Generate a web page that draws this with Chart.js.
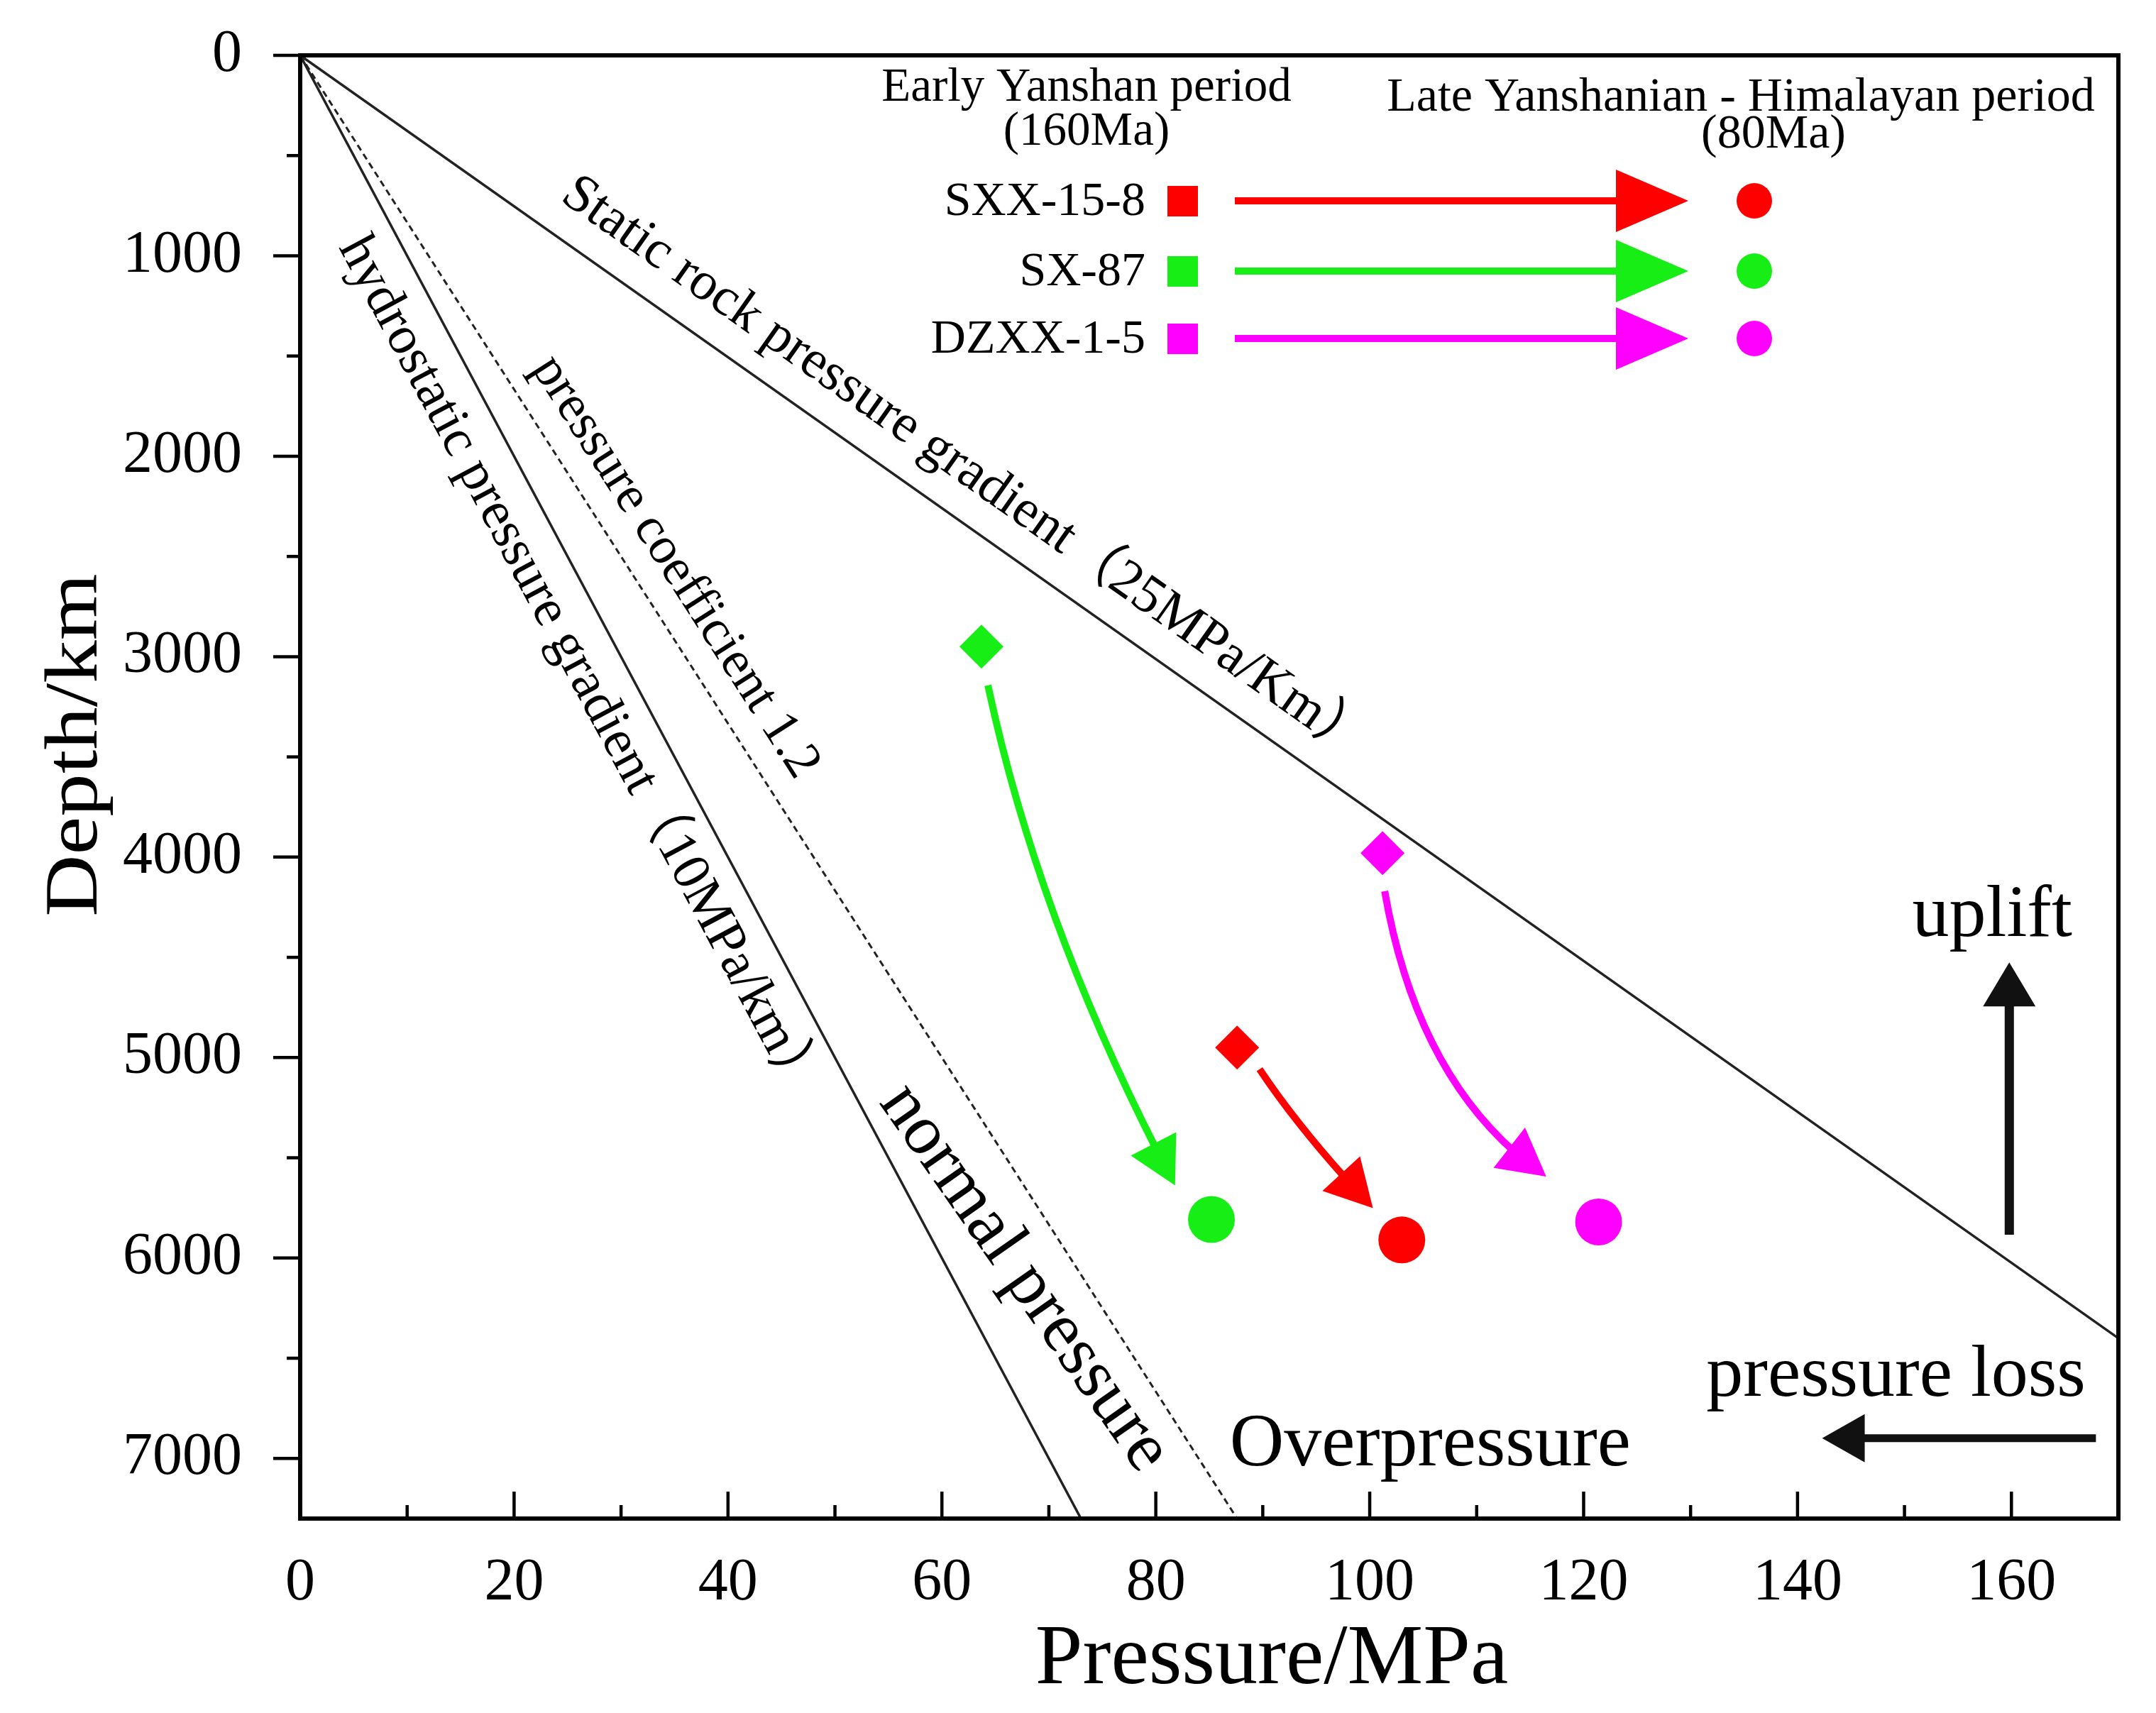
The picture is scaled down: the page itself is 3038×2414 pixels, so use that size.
<!DOCTYPE html>
<html>
<head>
<meta charset="utf-8">
<script src="https://cdn.jsdelivr.net/npm/chart.js@4.4.1/dist/chart.umd.min.js"></script>
<style>
  html, body { margin: 0; padding: 0; background: #ffffff; }
  #wrap { width: 3038px; height: 2414px; }
</style>
</head>
<body>
<div id="wrap"><canvas id="c" width="3038" height="2414"></canvas></div>
<script>
// ---------------- DATA ----------------
const samples = ['SXX-15-8', 'SX-87', 'DZXX-1-5'];
const sampleColors = ['#ff0000', '#16ee16', '#ff00ff'];
// Early Yanshan period (160Ma): pressure (MPa) and depth
const earlyPressure = [87.6, 63.7, 101.2];
const earlyDepth = [4950, 2950, 3980];
// Late Yanshanian - Himalayan period (80Ma)
const latePressure = [103.0, 85.2, 121.4];
const lateDepth = [5910, 5808, 5820];
// evolution arrows: start, bend (control), tip
const arrowStartP = [89.7, 64.3, 101.4];
const arrowStartD = [5058, 3143, 4170];
const arrowBendP = [93.7, 69.2, 104.6];
const arrowBendD = [5378, 4368, 5157];
const arrowTipP = [100.3, 81.8, 116.5];
const arrowTipD = [5751, 5638, 5594];
// reference gradient lines (pressure, depth) end points from origin
const hydroLineP = [0, 73];
const hydroLineD = [0, 7300];
const coefLineP = [0, 87.6];
const coefLineD = [0, 7300];
const staticLineP = [0, 170];
const staticLineD = [0, 6400];
// axis ranges and ticks
const xRange = [0, 170];
const yRange = [0, 7300];
const xTicks = [0, 10, 20, 30, 40, 50, 60, 70, 80, 90, 100, 110, 120, 130, 140, 150, 160];
const xTickLabels = ['0', '', '20', '', '40', '', '60', '', '80', '', '100', '', '120', '', '140', '', '160'];
const yTicks = [0, 500, 1000, 1500, 2000, 2500, 3000, 3500, 4000, 4500, 5000, 5500, 6000, 6500, 7000];
const yTickLabels = ['0', '', '1000', '', '2000', '', '3000', '', '4000', '', '5000', '', '6000', '', '7000'];
// trend arrows (uplift / pressure loss)
const upliftP = [159.8, 159.8];
const upliftD = [5884, 4525];
const lossP = [167.9, 142.3];
const lossD = [6899, 6899];

// ---------------- CHART ----------------
const SERIF = "'Liberation Serif', 'Times New Roman', 'Noto Sans CJK SC', serif";
const toPts = (ps, ds) => ps.map((p, i) => ({ x: p, y: ds[i] }));

const datasets = [
  { label: 'hydrostatic', type: 'line', data: toPts(hydroLineP, hydroLineD), borderColor: '#222', borderWidth: 3.5, pointRadius: 0, fill: false },
  { label: 'coefficient', type: 'line', data: toPts(coefLineP, coefLineD), borderColor: '#222', borderWidth: 3, borderDash: [9, 6], pointRadius: 0, fill: false },
  { label: 'static', type: 'line', data: toPts(staticLineP, staticLineD), borderColor: '#222', borderWidth: 3.5, pointRadius: 0, fill: false }
];
samples.forEach((s, i) => {
  datasets.push({
    label: s, type: 'scatter',
    data: [{ x: earlyPressure[i], y: earlyDepth[i] }, { x: latePressure[i], y: lateDepth[i] }],
    pointStyle: ['rectRot', 'circle'], pointRadius: [31, 33],
    backgroundColor: sampleColors[i], borderColor: sampleColors[i], borderWidth: 0, showLine: false
  });
});

function textAt(ctx, txt, x, y, ang, size, align, sx) {
  ctx.save();
  ctx.translate(x, y);
  ctx.rotate(ang);
  if (sx) ctx.scale(sx, 1);
  ctx.font = size + 'px ' + SERIF;
  ctx.fillStyle = '#000';
  ctx.textAlign = align || 'center';
  ctx.textBaseline = 'middle';
  ctx.fillText(txt, 0, 0);
  ctx.restore();
}
function head(ctx, tx, ty, ang, len, w, color) {
  ctx.save();
  ctx.translate(tx, ty);
  ctx.rotate(ang);
  ctx.beginPath();
  ctx.moveTo(0, 0);
  ctx.lineTo(-len, -w / 2);
  ctx.lineTo(-len, w / 2);
  ctx.closePath();
  ctx.fillStyle = color;
  ctx.fill();
  ctx.restore();
}

const annot = {
  id: 'annot',
  afterDatasetsDraw(chart) {
    const ctx = chart.ctx, a = chart.chartArea;
    const X = chart.scales.x, Y = chart.scales.y;
    const px = v => X.getPixelForValue(v), py = v => Y.getPixelForValue(v);
    ctx.save();
    // curved evolution arrows
    samples.forEach((s, i) => {
      const p0 = [px(arrowStartP[i]), py(arrowStartD[i])];
      const c = [px(arrowBendP[i]), py(arrowBendD[i])];
      const p2 = [px(arrowTipP[i]), py(arrowTipD[i])];
      const hl = 66, hw = 72;
      const q = t => [(1 - t) * (1 - t) * p0[0] + 2 * t * (1 - t) * c[0] + t * t * p2[0],
                      (1 - t) * (1 - t) * p0[1] + 2 * t * (1 - t) * c[1] + t * t * p2[1]];
      let t = 1;
      while (t > 0) { const r = q(t); if (Math.hypot(r[0] - p2[0], r[1] - p2[1]) >= hl * 0.85) break; t -= 0.002; }
      const c1 = [p0[0] + (c[0] - p0[0]) * t, p0[1] + (c[1] - p0[1]) * t];
      const e = q(t);
      ctx.beginPath();
      ctx.moveTo(p0[0], p0[1]);
      ctx.quadraticCurveTo(c1[0], c1[1], e[0], e[1]);
      ctx.strokeStyle = sampleColors[i];
      ctx.lineWidth = 10;
      ctx.stroke();
      head(ctx, p2[0], p2[1], Math.atan2(p2[1] - e[1], p2[0] - e[0]), hl, hw, sampleColors[i]);
    });
    // line labels
    const lineAng = (P, D) => Math.atan2(py(D[1]) - py(D[0]), px(P[1]) - px(P[0]));
    const along = (P, D, depth, off, txt, size) => {
      const ang = lineAng(P, D);
      const xx = px(P[1] * depth / D[1]), yy = py(depth);
      const nx = Math.sin(ang), ny = -Math.cos(ang);
      textAt(ctx, txt, xx + nx * off, yy + ny * off, ang, size);
    };
    along(staticLineP, staticLineD, 2250, 64, 'Static rock pressure gradient（25MPa/Km）', 76);
    along(hydroLineP, hydroLineD, 2960, -60, 'hydrostatic pressure gradient（10MPa/km）', 76);
    along(coefLineP, coefLineD, 2660, 56, 'pressure coefficient 1.2', 74);
    textAt(ctx, 'normal pressure', px(67.7), py(6100), 55 * Math.PI / 180, 100);
    textAt(ctx, 'Overpressure', px(86.9), py(6935), 0, 106, 'left');
    textAt(ctx, 'uplift', px(158.2), py(4295), 0, 104);
    textAt(ctx, 'pressure loss', px(149.2), py(6590), 0, 104);
    // uplift arrow
    ctx.strokeStyle = '#111'; ctx.lineWidth = 13;
    ctx.beginPath(); ctx.moveTo(px(upliftP[0]), py(upliftD[0])); ctx.lineTo(px(upliftP[1]), py(upliftD[1]) + 50); ctx.stroke();
    head(ctx, px(upliftP[1]), py(upliftD[1]), -Math.PI / 2, 62, 74, '#111');
    // pressure loss arrow
    ctx.lineWidth = 11;
    ctx.beginPath(); ctx.moveTo(px(lossP[0]), py(lossD[0])); ctx.lineTo(px(lossP[1]) + 50, py(lossD[1])); ctx.stroke();
    head(ctx, px(lossP[1]), py(lossD[1]), Math.PI, 60, 68, '#111');

    // custom legend
    const lx = a.left;
    ctx.font = '67px ' + SERIF; ctx.fillStyle = '#000'; ctx.textAlign = 'center'; ctx.textBaseline = 'middle';
    ctx.fillText('Early Yanshan period', lx + 1108, 124);
    ctx.fillText('(160Ma)', lx + 1108, 186);
    ctx.font = '68px ' + SERIF;
    ctx.fillText('Late Yanshanian - Himalayan period', lx + 2030, 138);
    ctx.fillText('(80Ma)', lx + 2076, 190);
    const rowsY = [283, 382, 477];
    samples.forEach((s, i) => {
      const yy = rowsY[i];
      ctx.fillStyle = '#000'; ctx.textAlign = 'right';
      ctx.font = '68px ' + SERIF;
      ctx.fillText(s, lx + 1191, yy + 2);
      ctx.fillStyle = sampleColors[i];
      ctx.fillRect(lx + 1243 - 21, yy - 21, 43, 43);
      ctx.strokeStyle = sampleColors[i]; ctx.lineWidth = 10;
      ctx.beginPath(); ctx.moveTo(lx + 1317, yy); ctx.lineTo(lx + 1860, yy); ctx.stroke();
      head(ctx, lx + 1956, yy, 0, 102, 88, sampleColors[i]);
      ctx.beginPath(); ctx.arc(lx + 2049, yy, 25, 0, Math.PI * 2); ctx.fill();
    });
    ctx.restore();
  },
  afterDraw(chart) {
    const ctx = chart.ctx, a = chart.chartArea;
    const X = chart.scales.x, Y = chart.scales.y;
    ctx.save();
    ctx.strokeStyle = '#000';
    // frame
    ctx.lineWidth = 6;
    ctx.beginPath();
    ctx.moveTo(a.left, a.top); ctx.lineTo(a.right, a.top); ctx.lineTo(a.right, a.bottom);
    ctx.lineTo(a.left, a.bottom); ctx.closePath(); ctx.stroke();
    // tick marks (major ticks carry a label)
    ctx.lineWidth = 4.5;
    X.ticks.forEach((t, i) => {
      if (t.value <= xRange[0] || t.value >= xRange[1]) return;
      const p = X.getPixelForValue(t.value);
      const len = xTickLabels[i] ? 38 : 19;
      ctx.beginPath(); ctx.moveTo(p, a.bottom); ctx.lineTo(p, a.bottom - len); ctx.stroke();
    });
    Y.ticks.forEach((t, i) => {
      const p = Y.getPixelForValue(t.value);
      const len = yTickLabels[i] ? 38 : 19;
      ctx.beginPath(); ctx.moveTo(a.left, p); ctx.lineTo(a.left - len, p); ctx.stroke();
    });
    // axis titles
    textAt(ctx, 'Depth/km', 108, 1050, -Math.PI / 2, 106, 'center', 1.14);
    textAt(ctx, 'Pressure/MPa', 1792, 2340, 0, 120);
    ctx.restore();
  }
};

const noPad = s => { s.paddingTop = 0; s.paddingBottom = 0; s.paddingLeft = 0; s.paddingRight = 0; };

new Chart(document.getElementById('c'), {
  type: 'scatter',
  data: { datasets },
  options: {
    responsive: false, animation: false, devicePixelRatio: 1,
    layout: { padding: { top: 78, right: 53, left: 0, bottom: 0 } },
    plugins: { legend: { display: false }, tooltip: { enabled: false }, title: { display: false } },
    scales: {
      x: {
        type: 'linear', min: xRange[0], max: xRange[1], position: 'bottom',
        grid: { display: false, drawTicks: false }, border: { display: false },
        afterBuildTicks: s => { s.ticks = xTicks.map(v => ({ value: v })); },
        ticks: { autoSkip: false, maxRotation: 0, color: '#000', padding: 42,
          font: { family: SERIF, size: 84 }, callback: (v, i) => xTickLabels[i] },
        afterFit: s => { s.height = 2414 - 2140; noPad(s); }
      },
      y: {
        type: 'linear', min: yRange[0], max: yRange[1], reverse: true,
        grid: { display: false, drawTicks: false }, border: { display: false },
        afterBuildTicks: s => { s.ticks = yTicks.map(v => ({ value: v })); },
        ticks: { autoSkip: false, color: '#000', padding: 82,
          font: { family: SERIF, size: 84 }, callback: (v, i) => yTickLabels[i] },
        afterFit: s => { s.width = 423; noPad(s); }
      }
    }
  },
  plugins: [annot]
});
</script>
</body>
</html>
